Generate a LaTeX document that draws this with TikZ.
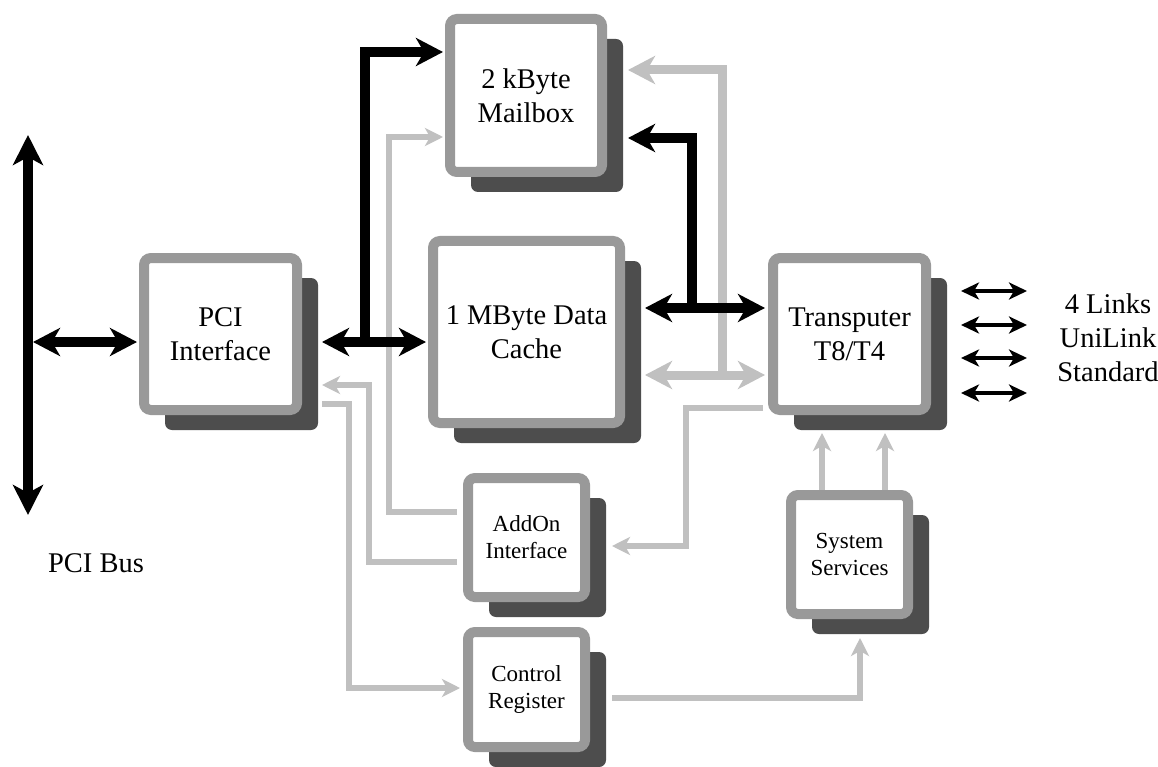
\documentclass[tikz,border=0pt]{standalone}
\usepackage{fontspec}
\setmainfont{Liberation Serif}
\usetikzlibrary{arrows.meta,shadows,calc}
\definecolor{framec}{HTML}{999999}
\definecolor{shadc}{HTML}{4D4D4D}
\definecolor{linec}{HTML}{C0C0C0}
\tikzset{
  BT/.tip={Stealth[length=27pt,width=28pt,inset=8pt]},
  PT/.tip={Stealth[length=30pt,width=30pt,inset=8pt]},
  ST/.tip={Stealth[length=18pt,width=18pt,inset=5pt]},
  LT/.tip={Stealth[length=18pt,width=17pt,inset=5pt]},
}
\begin{document}
\begin{tikzpicture}[x=1pt,y=-1pt,
  blockbox/.style={draw=framec, line width=10pt, fill=white, rounded corners=7pt,
    inner sep=0pt, align=center,
    general shadow={fill=shadc, shadow xshift=21pt, shadow yshift=-20pt}},
  bigtxt/.style={font=\fontsize{28.5}{34}\selectfont},
  smalltxt/.style={font=\fontsize{23}{27}\selectfont},
  blk/.style={draw=black, line width=10pt},
  grk/.style={draw=linec, line width=9pt},
  grt/.style={draw=linec, line width=6pt},
  lnk/.style={draw=black, line width=4pt},
]
\useasboundingbox[fill=white] (0,0) rectangle (1158,767);

% blocks
\node[blockbox,bigtxt,minimum width=152pt,minimum height=153pt] (mailbox) at (526,95.5) {2 kByte\\Mailbox};
\node[blockbox,bigtxt,minimum width=187pt,minimum height=182pt] (cache) at (526.5,332) {1 MByte Data\\Cache};
\node[blockbox,bigtxt,minimum width=153pt,minimum height=152pt] (pci) at (220.5,334) {PCI\\Interface};
\node[blockbox,bigtxt,minimum width=153pt,minimum height=152pt] (trans) at (849.5,334) {Transputer\\T8/T4};
\node[blockbox,smalltxt,minimum width=117pt,minimum height=119pt] (addon) at (526.5,537.5) {AddOn\\Interface};
\node[blockbox,smalltxt,minimum width=117pt,minimum height=115pt] (ctrl) at (526.5,689.5) {Control\\Register};
\node[blockbox,smalltxt,minimum width=117pt,minimum height=119pt] (sys) at (849.5,554.5) {System\\Services};

\node[bigtxt,anchor=base] (busl) at (96,572) {PCI Bus};
\node[bigtxt,align=center] (linkl) at (1108,338) {4 Links\\UniLink\\Standard};

% junction coordinates
\coordinate (bustop) at (28,135);
\coordinate (busbot) at (28,515);
\coordinate (busj) at (33,342);
\coordinate (j1) at (365,342);
\coordinate (j2) at (692,308);
\coordinate (j3) at (722,375);

% thin grey connectors
\draw[grt,-ST,shorten <=6pt,shorten >=2pt] (addon.west |- 0,512) -| (389,137) -- (mailbox.west |- 0,137);
\draw[grt,-ST,shorten <=6pt,shorten >=20pt] (addon.west |- 0,562) -| (369,385) -- (pci.east |- 0,385);
\draw[grt,-ST,shorten <=20pt,shorten >=3pt] (pci.east |- 0,404) -| (349,688) -- (ctrl.west |- 0,688);
\draw[grt,-ST,shorten <=5pt,shorten >=22pt] (trans.west |- 0,408) -| (686,546) -- (addon.east |- 0,546);
\draw[grt,-ST,shorten <=22pt,shorten >=19pt] (ctrl.east |- 0,698) -| (sys.south -| 860,0);
\draw[grt,-ST,shorten >=18pt] (sys.north -| 822,0) -- (trans.south -| 822,0);
\draw[grt,-ST,shorten >=18pt] (sys.north -| 885,0) -- (trans.south -| 885,0);

% thick grey connectors
\draw[grk,BT-BT,shorten <=20pt,shorten >=3pt] (cache.east |- j3) -- (trans.west |- j3);
\draw[grk,-BT,shorten >=21pt] (j3) |- (mailbox.east |- 0,70);

% black connectors
\draw[blk,PT-PT] (bustop) -- (busbot);
\draw[blk,BT-BT,shorten >=2pt] (busj) -- (pci.west |- busj);
\draw[blk,BT-BT,shorten <=20pt,shorten >=2pt] (pci.east |- busj) -- (cache.west |- busj);
\draw[blk,-BT,shorten >=2pt] (j1) |- (mailbox.west |- 0,52);
\draw[blk,BT-BT,shorten <=20pt,shorten >=3pt] (cache.east |- j2) -- (trans.west |- j2);
\draw[blk,-BT,shorten >=21pt] (j2) |- (mailbox.east |- 0,138);

% links
\draw[lnk,LT-LT] (961,291) -- (1027,291);
\draw[lnk,LT-LT] (961,325) -- (1027,325);
\draw[lnk,LT-LT] (961,358) -- (1027,358);
\draw[lnk,LT-LT] (961,393) -- (1027,393);
\end{tikzpicture}
\end{document}
